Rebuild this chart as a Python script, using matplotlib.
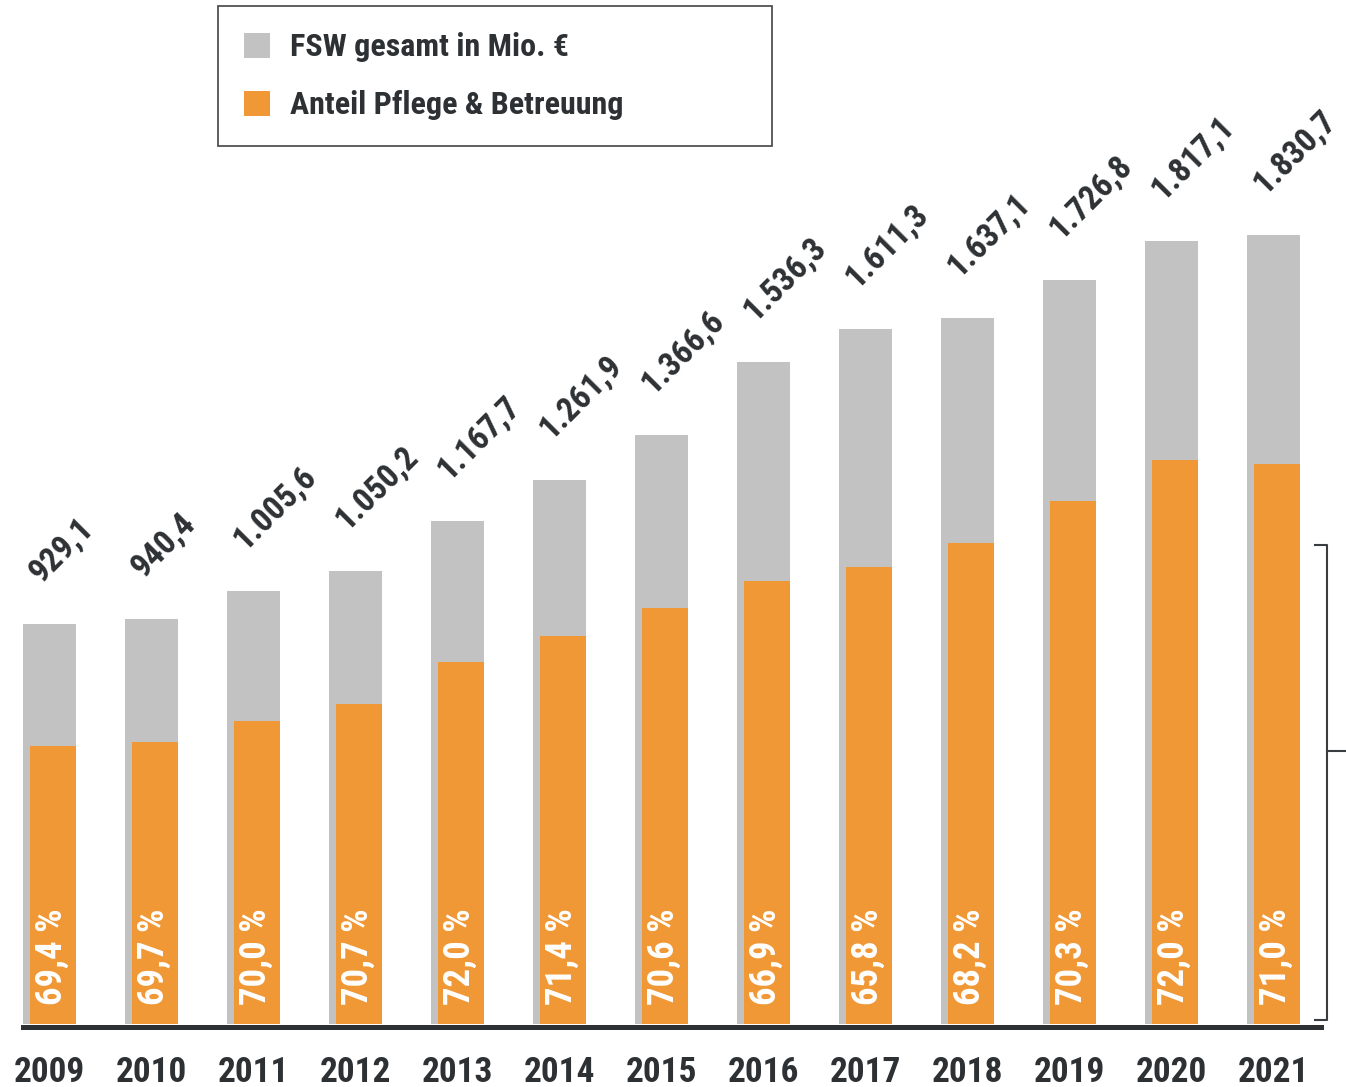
import matplotlib
matplotlib.use("Agg")
import matplotlib.pyplot as plt
from matplotlib.patches import Patch
import numpy as np

# Data
years = ["2009", "2010", "2011", "2012", "2013", "2014", "2015",
         "2016", "2017", "2018", "2019", "2020", "2021"]
total_mio = [929.1, 940.4, 1005.6, 1050.2, 1167.7, 1261.9, 1366.6,
             1536.3, 1611.3, 1637.1, 1726.8, 1817.1, 1830.7]
share_pct = [69.4, 69.7, 70.0, 70.7, 72.0, 71.4, 70.6,
             66.9, 65.8, 68.2, 70.3, 72.0, 71.0]

GRAY = "#c1c2c1"
ORANGE = "#f09836"
DARK = "#2d3134"
FONT = ["Roboto Condensed", "Liberation Sans Narrow", "DejaVu Sans"]

plt.rcParams["font.family"] = FONT
plt.rcParams["font.weight"] = "bold"


def de_num(v, fmt="{:,.1f}"):
    # German number format: 1.005,6
    return fmt.format(v).replace(",", "X").replace(".", ",").replace("X", ".")


x = np.arange(len(years))
total = np.array(total_mio)
care = total * np.array(share_pct) / 100

fig = plt.figure(figsize=(13.46, 10.87), dpi=100)
ax = fig.add_axes([0, 0.0553, 1, 0.9447])

W_GRAY = 0.52
W_ORANGE = 0.451
ax.bar(x, total, width=W_GRAY, color=GRAY, zorder=2)
# orange bars are narrower and flush with the right edge of the gray bars
ax.bar(x + W_GRAY / 2, care, width=-W_ORANGE, align="edge", color=ORANGE, zorder=3)

# totals, rotated above the bars
for xi, v in zip(x, total):
    ax.annotate(de_num(v), (xi, v), xytext=(-6, 29), textcoords="offset points",
                rotation=45, rotation_mode="anchor", ha="left", va="baseline",
                fontsize=24, fontweight="bold", color=DARK, zorder=5)

# share inside orange bars
for xi, p in zip(x, share_pct):
    ax.text(xi + W_GRAY / 2 - W_ORANGE / 2 - 0.01, 45, de_num(p, "{:.1f}") + " %",
            rotation=90, ha="center", va="bottom", fontsize=26.5,
            fontweight="bold", color="white", zorder=5)

ax.set_xlim(-0.4853, 12.711)
ax.set_ylim(-6, 2375)

for s in ["top", "right", "left"]:
    ax.spines[s].set_visible(False)
ax.spines["bottom"].set_linewidth(3.6)
ax.spines["bottom"].set_color(DARK)
ax.spines["bottom"].set_bounds(-0.263, 12.466)
ax.set_yticks([])
ax.set_xticks(x)
ax.set_xticklabels(years, fontsize=25.5, fontweight="bold", color=DARK)
ax.tick_params(axis="x", length=0, pad=21)

# bracket on the right edge
bk = dict(color="#3a3d3f", lw=1.5, transform=fig.transFigure, clip_on=False)
fig.add_artist(plt.Line2D([1315 / 1346, 1327 / 1346, 1327 / 1346, 1315 / 1346],
                          [1 - 545 / 1087, 1 - 545 / 1087, 1 - 1020 / 1087, 1 - 1020 / 1087], **bk))
fig.add_artist(plt.Line2D([1327 / 1346, 1346 / 1346], [1 - 751 / 1087, 1 - 751 / 1087], **bk))

handles = [Patch(facecolor=GRAY, label="FSW gesamt in Mio. €"),
           Patch(facecolor=ORANGE, label="Anteil Pflege & Betreuung")]
leg = fig.legend(handles=handles, loc="upper left",
                 bbox_to_anchor=(218 / 1346, 1 - 6 / 1087, (772 - 218) / 1346, 0),
                 mode="expand", fancybox=False, framealpha=1, edgecolor="#444444",
                 prop={"family": FONT, "weight": "bold", "size": 23},
                 handlelength=0.82, handleheight=0.82, handletextpad=0.6,
                 labelspacing=0.88, borderpad=0.82, borderaxespad=0)
leg.get_frame().set_linewidth(1.2)
for t in leg.get_texts():
    t.set_color(DARK)

fig.savefig("out.png", dpi=100)
